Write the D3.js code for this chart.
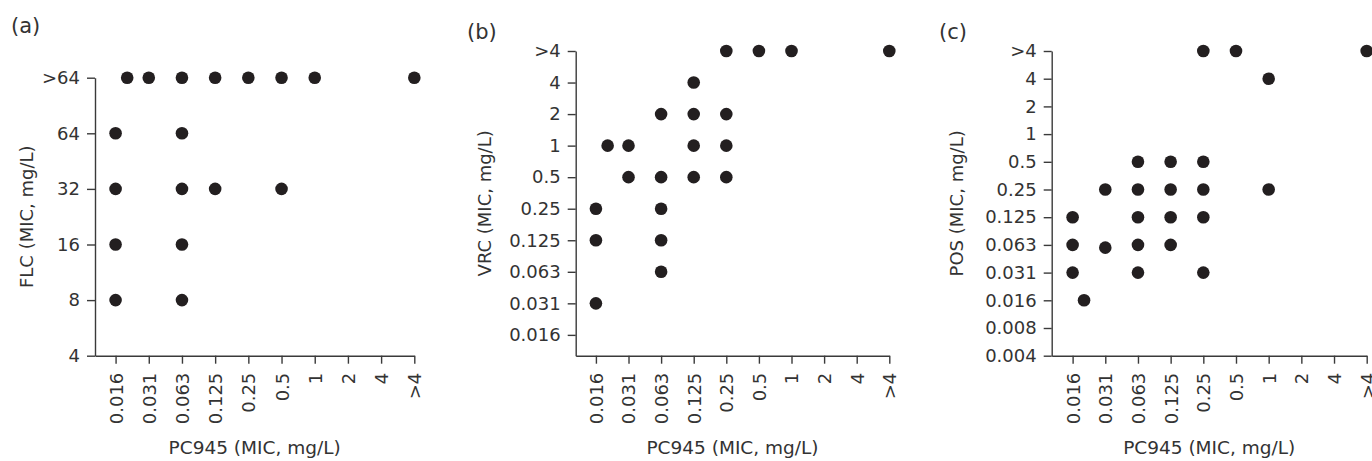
<!DOCTYPE html>
<html>
<head>
<meta charset="utf-8">
<script src="https://cdn.jsdelivr.net/npm/d3@7"></script>
<style>
  html, body { margin: 0; padding: 0; background: #fff; }
  svg { display: block; }
  text { font-family: "DejaVu Sans", sans-serif; fill: #333; }
</style>
</head>
<body>
<svg id="chart" width="1372" height="461"></svg>
<script>
// ---- Data (positions on the MIC dilution ladder: 0 = first tick label) ----
const pc945Ticks = ["0.016", "0.031", "0.063", "0.125", "0.25", "0.5", "1", "2", "4", ">4"];
const flcTicks = ["4", "8", "16", "32", "64", ">64"];
const vrcTicks = ["0.016", "0.031", "0.063", "0.125", "0.25", "0.5", "1", "2", "4", ">4"];
const posTicks = ["0.004", "0.008", "0.016", "0.031", "0.063", "0.125", "0.25", "0.5", "1", "2", "4", ">4"];

// (a) PC945 vs FLC
const flcX = [0.35, 1, 2, 3, 4, 5, 6, 9, 0, 2, 0, 2, 3, 5, 0, 2, 0, 2];
const flcY = [5, 5, 5, 5, 5, 5, 5, 5, 4, 4, 3, 3, 3, 3, 2, 2, 1, 1];

// (b) PC945 vs VRC
const vrcX = [4, 5, 6, 9, 3, 2, 3, 4, 0.36, 1, 3, 4, 1, 2, 3, 4, 0, 2, 0, 2, 2, 0];
const vrcY = [9, 9, 9, 9, 8, 7, 7, 7, 6, 6, 6, 6, 5, 5, 5, 5, 4, 4, 3, 3, 2, 1];

// (c) PC945 vs POS
const posX = [4, 5, 9, 6, 2, 3, 4, 1, 2, 3, 4, 6, 0, 2, 3, 4, 0, 1, 2, 3, 0, 2, 4, 0.35];
const posY = [11, 11, 11, 10, 7, 7, 7, 6, 6, 6, 6, 6, 5, 5, 5, 5, 4, 3.9, 4, 4, 3, 3, 3, 2];

const panels = [
  { tag: "(a)", yTitle: "FLC (MIC, mg/L)", yTicks: flcTicks, xs: flcX, ys: flcY,
    left: 95, right: 414.3, top: 77.7, bottom: 355.7, xMin: -0.62, yMin: 0,
    titleX: 27, tagX: 11, tagY: 33 },
  { tag: "(b)", yTitle: "VRC (MIC, mg/L)", yTicks: vrcTicks, xs: vrcX, ys: vrcY,
    left: 575.7, right: 889.3, top: 51, bottom: 355.7, xMin: -0.62, yMin: -0.66,
    titleX: 485, tagX: 467, tagY: 39 },
  { tag: "(c)", yTitle: "POS (MIC, mg/L)", yTicks: posTicks, xs: posX, ys: posY,
    left: 1051.7, right: 1366.7, top: 51, bottom: 355.7, xMin: -0.64, yMin: 0,
    titleX: 956.5, tagX: 939, tagY: 39 }
];

const svg = d3.select("#chart");
const axisColor = "#3a3a3a";
const dotColor = "#231f20";

panels.forEach(p => {
  const g = svg.append("g");
  const x = d3.scaleLinear().domain([p.xMin, pc945Ticks.length - 1]).range([p.left, p.right]);
  const y = d3.scaleLinear().domain([p.yMin, p.yTicks.length - 1]).range([p.bottom, p.top]);

  const xAxis = d3.axisBottom(x)
    .tickValues(d3.range(pc945Ticks.length))
    .tickFormat(i => pc945Ticks[i])
    .tickSize(8).tickSizeOuter(0).tickPadding(9);
  const yAxis = d3.axisLeft(y)
    .tickValues(d3.range(p.yTicks.length))
    .tickFormat(i => p.yTicks[i])
    .tickSize(8).tickSizeOuter(0).tickPadding(7);

  const gx = g.append("g").attr("transform", `translate(0,${p.bottom})`).call(xAxis);
  gx.selectAll("text")
    .attr("transform", "rotate(-90)")
    .attr("text-anchor", "end")
    .attr("x", -17).attr("y", 0).attr("dy", "0.36em")
    .style("font-size", "18px");
  const gy = g.append("g").attr("transform", `translate(${p.left},0)`).call(yAxis);
  gy.selectAll("text").style("font-size", "18px");

  g.selectAll(".domain, .tick line").attr("stroke", axisColor).attr("stroke-width", 1.4);
  g.selectAll(".tick text").attr("fill", "#333").style("font-family", '"DejaVu Sans", sans-serif');

  // points
  g.selectAll("circle.pt")
    .data(p.xs.map((xv, i) => [xv, p.ys[i]]))
    .join("circle")
    .attr("class", "pt")
    .attr("cx", d => x(d[0]))
    .attr("cy", d => y(d[1]))
    .attr("r", 6.3)
    .attr("fill", dotColor);

  // axis titles
  g.append("text")
    .attr("x", (p.left + p.right) / 2)
    .attr("y", 454)
    .attr("text-anchor", "middle")
    .style("font-size", "18.5px")
    .text("PC945 (MIC, mg/L)");

  const ymid = (p.top + p.bottom) / 2;
  g.append("text")
    .attr("transform", `translate(${p.titleX},${ymid}) rotate(-90)`)
    .attr("text-anchor", "middle")
    .attr("dy", "0.35em")
    .style("font-size", "18px")
    .text(p.yTitle);

  // panel tag
  g.append("text")
    .attr("x", p.tagX).attr("y", p.tagY)
    .style("font-size", "21px")
    .text(p.tag);
});
</script>
</body>
</html>
